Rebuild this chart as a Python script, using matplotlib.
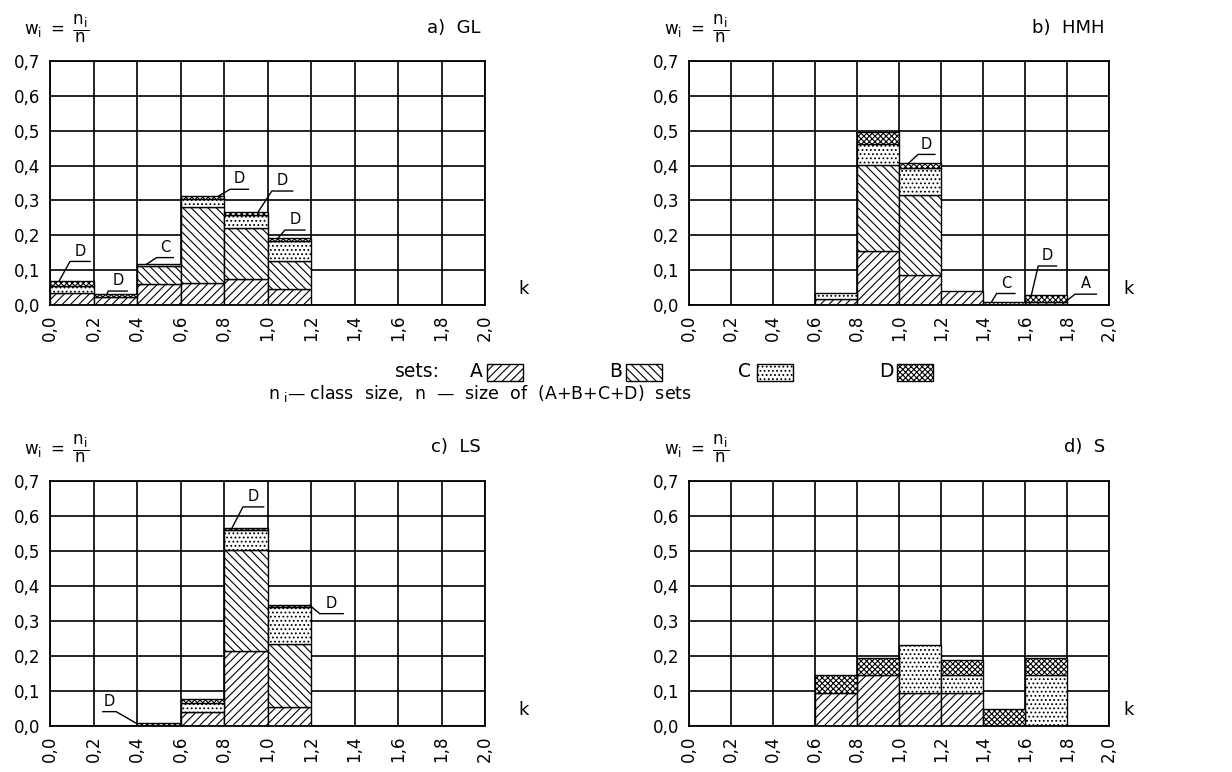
import matplotlib
matplotlib.use("Agg")
import matplotlib.pyplot as plt
from matplotlib.patches import Rectangle
from matplotlib.transforms import offset_copy
import numpy as np

plt.rcParams['font.family'] = ['DejaVu Sans']
plt.rcParams['hatch.linewidth'] = 0.8
plt.rcParams['mathtext.default'] = 'regular'

# ---- data ----
bin_left = [0.0, 0.2, 0.4, 0.6, 0.8, 1.0, 1.2, 1.4, 1.6, 1.8]
bin_width = 0.2
x_ticks = [0.0, 0.2, 0.4, 0.6, 0.8, 1.0, 1.2, 1.4, 1.6, 1.8, 2.0]
x_tick_labels = ["0,0", "0,2", "0,4", "0,6", "0,8", "1,0", "1,2", "1,4", "1,6", "1,8", "2,0"]
y_ticks = [0.0, 0.1, 0.2, 0.3, 0.4, 0.5, 0.6, 0.7]
y_tick_labels = ["0,0", "0,1", "0,2", "0,3", "0,4", "0,5", "0,6", "0,7"]
set_names = ["A", "B", "C", "D"]

GL_A = [0.035, 0.022, 0.060, 0.062, 0.075, 0.045, 0, 0, 0, 0]
GL_B = [0.000, 0.000, 0.052, 0.220, 0.145, 0.080, 0, 0, 0, 0]
GL_C = [0.020, 0.000, 0.005, 0.022, 0.038, 0.060, 0, 0, 0, 0]
GL_D = [0.015, 0.010, 0.000, 0.008, 0.010, 0.008, 0, 0, 0, 0]

HMH_A = [0, 0, 0, 0.018, 0.156, 0.085, 0.040, 0.000, 0.008, 0]
HMH_B = [0, 0, 0, 0.000, 0.247, 0.232, 0.000, 0.000, 0.000, 0]
HMH_C = [0, 0, 0, 0.017, 0.059, 0.075, 0.000, 0.008, 0.000, 0]
HMH_D = [0, 0, 0, 0.000, 0.033, 0.014, 0.000, 0.000, 0.020, 0]

LS_A = [0, 0, 0.000, 0.040, 0.215, 0.055, 0, 0, 0, 0]
LS_B = [0, 0, 0.000, 0.000, 0.287, 0.178, 0, 0, 0, 0]
LS_C = [0, 0, 0.000, 0.025, 0.058, 0.106, 0, 0, 0, 0]
LS_D = [0, 0, 0.008, 0.013, 0.006, 0.006, 0, 0, 0, 0]

S_A = [0, 0, 0, 0.095, 0.145, 0.095, 0.095, 0.000, 0.000, 0]
S_B = [0, 0, 0, 0.000, 0.000, 0.000, 0.000, 0.000, 0.000, 0]
S_C = [0, 0, 0, 0.000, 0.000, 0.136, 0.050, 0.000, 0.145, 0]
S_D = [0, 0, 0, 0.050, 0.050, 0.000, 0.045, 0.050, 0.050, 0]

panel_titles = ["a)  GL", "b)  HMH", "c)  LS", "d)  S"]
panel_data = [
    [GL_A, GL_B, GL_C, GL_D],
    [HMH_A, HMH_B, HMH_C, HMH_D],
    [LS_A, LS_B, LS_C, LS_D],
    [S_A, S_B, S_C, S_D],
]
ylabel_formula = r"$w_i\ =\ \dfrac{n_i}{n}$"
legend_line1 = "sets:"
legend_line2 = "n$_{\\ i}$\u2014 class  size,  n  \u2014  size  of  (A+B+C+D)  sets"

# ---- styles / layout ----
hatches = {"A": "////", "B": "\\\\\\\\", "C": "....", "D": "xxxxxx"}
# leader-label annotations: (bin index, set, anchor x, elbow x, elbow y, end x)
annotations = [
    [(0, "D", 0.043, 0.092, 0.125, 0.184),
     (1, "D", 0.262, 0.268, 0.040, 0.355),
     (2, "C", 0.444, 0.490, 0.136, 0.567),
     (3, "D", 0.774, 0.828, 0.332, 0.912),
     (4, "D", 0.958, 1.020, 0.327, 1.116),
     (5, "D", 1.050, 1.080, 0.215, 1.172)],
    [(5, "D", 1.044, 1.091, 0.432, 1.171),
     (7, "C", 1.440, 1.465, 0.033, 1.552),
     (8, "D", 1.630, 1.663, 0.112, 1.750),
     (8, "A", 1.790, 1.838, 0.031, 1.940)],
    [(2, "D", 0.396, 0.304, 0.041, 0.243),
     (4, "D", 0.837, 0.887, 0.626, 0.982),
     (5, "D", 1.194, 1.240, 0.321, 1.348)],
    [],
]

W, H = 1232, 772
fig = plt.figure(figsize=(W / 100, H / 100), dpi=100)

def frac_rect(x0, y0, x1, y1):
    return [x0 / W, 1 - y1 / H, (x1 - x0) / W, (y1 - y0) / H]

axes_px = [(50, 61, 485, 305), (689, 61, 1109, 305),
           (50, 481, 485, 726), (689, 481, 1109, 726)]
k_offset_pt = [28, 14, 28, 14]

fs = 12
for p in range(4):
    ax = fig.add_axes(frac_rect(*axes_px[p]))
    data = panel_data[p]
    bottom = np.zeros(len(bin_left))
    tops = {}
    for name, vals in zip(set_names, data):
        vals = np.array(vals, dtype=float)
        mask = vals > 0
        ax.bar(np.array(bin_left)[mask], vals[mask], width=bin_width,
               bottom=bottom[mask], align="edge", facecolor="white",
               edgecolor="black", linewidth=1.0, hatch=hatches[name], zorder=3)
        bottom = bottom + vals
        tops[name] = bottom.copy()
    ax.set_xlim(0, 2.0)
    ax.set_ylim(0, 0.7)
    ax.set_xticks(x_ticks)
    ax.set_xticklabels(x_tick_labels, rotation=90, fontsize=fs)
    ax.set_yticks(y_ticks)
    ax.set_yticklabels(y_tick_labels, fontsize=fs)
    ax.tick_params(length=0, pad=7)
    ax.grid(True, color="black", linewidth=1.2, zorder=1)
    ax.set_axisbelow(True)
    for s in ax.spines.values():
        s.set_linewidth(1.3)
        s.set_zorder(5)
    ktr = offset_copy(ax.transAxes, fig=fig, x=k_offset_pt[p], y=0, units="points")
    ax.text(1.0, 0.03, "k", transform=ktr, fontsize=13, ha="center", va="bottom")
    ax.text(0.99, 1.10, panel_titles[p], transform=ax.transAxes, fontsize=13,
            ha="right", va="bottom")
    ax.text(-0.06, 1.065, ylabel_formula, transform=ax.transAxes, fontsize=12,
            ha="left", va="bottom")
    for (bi, name, axx, ex, ey, endx) in annotations[p]:
        ay = tops[name][bi]
        ax.plot([axx, ex, endx], [ay, ey, ey], color="black", linewidth=1.0,
                zorder=6, clip_on=False)
        ax.text((ex + endx) / 2, ey + 0.008, name, fontsize=10.5, ha="center",
                va="bottom", zorder=6)

# ---- legend ----
ly = 372
fig.text(395 / W, 1 - ly / H, legend_line1, fontsize=13.5, ha="left", va="center")
leg_pos = [(470, 487), (609, 626), (738, 757), (879, 897)]
for name, (tx, bx) in zip(set_names, leg_pos):
    fig.text(tx / W, 1 - ly / H, name, fontsize=13.5, ha="left", va="center")
    r = Rectangle((bx / W, 1 - 381 / H), 36 / W, 17 / H, transform=fig.transFigure,
                  facecolor="white", edgecolor="black", linewidth=1.0,
                  hatch=hatches[name])
    fig.add_artist(r)
fig.text(268 / W, 1 - 394 / H, legend_line2, fontsize=12.5, ha="left", va="center")

fig.savefig("out.png", dpi=100)
